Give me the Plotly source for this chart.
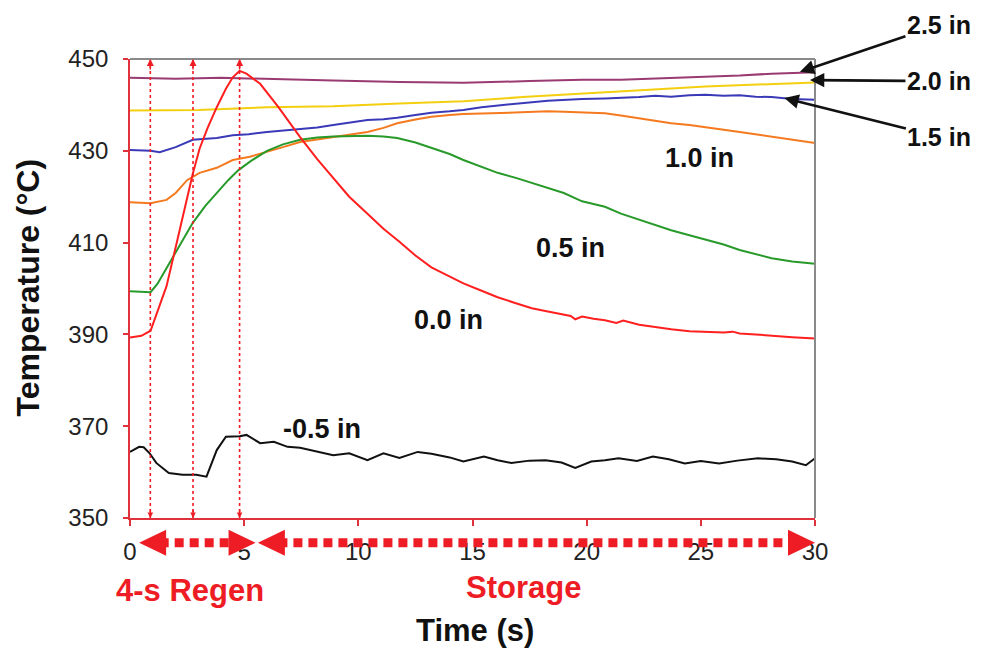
import plotly.graph_objects as go

# ---------------- data ----------------
t_neg05 = [0, 0.4, 0.6, 0.86, 1.15, 1.7, 2.3, 2.9, 3.35, 3.8, 4.2, 4.8, 5.1, 5.7, 6.3, 6.9, 7.45, 8.2, 8.9, 9.6,
           10.4, 11.1, 11.8, 12.6, 13.2, 14.0, 14.6, 15.5, 16.1, 16.7, 17.5, 18.2, 18.9, 19.5, 20.2, 20.8, 21.4,
           22.2, 22.9, 23.6, 24.3, 25.0, 25.8, 26.6, 27.5, 28.3, 29.0, 29.6, 30]
T_neg05 = [364.4, 365.5, 365.4, 364.1, 362.0, 359.8, 359.4, 359.4, 359.0, 364.8, 367.7, 367.8, 368.1, 366.3, 366.6,
           365.5, 365.3, 364.4, 363.7, 364.1, 362.6, 364.1, 363.1, 364.4, 364.0, 363.2, 362.3, 363.4, 362.6, 362.0,
           362.5, 362.6, 362.1, 360.9, 362.3, 362.6, 363.0, 362.4, 363.4, 362.8, 361.9, 362.4, 361.9, 362.5, 363.0,
           362.8, 362.3, 361.5, 363.0]

t_00 = [0, 0.5, 0.9, 1.2, 1.6, 2.0, 2.3, 2.75, 3.05, 3.4, 3.8, 4.2, 4.5, 4.8, 5.1, 5.7, 6.5, 7.45, 8.2, 8.9, 9.6,
        10.4, 11.1, 11.8, 12.5, 13.2, 14.0, 14.6, 15.4, 16.1, 16.9, 17.6, 18.3, 19.0, 19.3, 19.5, 19.8, 20.3, 20.8,
        21.3, 21.6, 22.3, 23.0, 23.7, 24.5, 25.2, 26.0, 26.4, 26.7, 27.4, 28.1, 29.0, 30]
T_00 = [389.3, 389.7, 390.8, 395.0, 400.5, 409.0, 415.5, 425.0, 430.5, 435.0, 439.5, 443.5, 446.0, 447.4, 446.8,
        444.6, 439.5, 433.0, 428.2, 424.0, 420.0, 416.3, 413.0, 410.2, 407.2, 404.6, 402.5, 401.1, 399.5, 398.1,
        396.8, 395.7, 395.0, 394.3, 394.0, 393.3, 393.9, 393.4, 393.1, 392.5, 393.0, 392.1, 391.6, 391.1, 390.7,
        390.5, 390.4, 390.6, 390.2, 390.0, 389.7, 389.4, 389.1]

t_05 = [0, 0.5, 0.9, 1.2, 1.6, 2.0, 2.4, 2.75, 3.3, 3.8, 4.3, 4.75, 5.3, 6.0, 6.7, 7.45, 8.2, 8.9, 9.6, 10.4, 11.1,
        11.7, 12.5, 13.2, 14.0, 14.6, 15.4, 16.1, 16.9, 17.6, 18.3, 19.0, 19.8, 20.8, 21.5, 22.3, 23.0, 23.7, 24.5,
        25.2, 26.0, 26.7, 27.4, 28.1, 29.0, 30]
T_05 = [399.4, 399.2, 399.2, 401.0, 404.5, 408.0, 411.5, 414.3, 418.0, 420.8, 423.6, 425.8, 427.8, 430.0, 431.4,
        432.4, 432.9, 433.1, 433.2, 433.3, 433.1, 432.8, 431.8, 430.6, 429.3, 428.0, 426.6, 425.2, 424.1, 423.0,
        421.9, 420.8, 419.0, 417.8, 416.3, 415.0, 413.9, 412.7, 411.6, 410.6, 409.6, 408.4, 407.5, 406.6, 405.9, 405.4]

t_10 = [0, 0.5, 0.9, 1.6, 2.0, 2.5, 3.05, 3.8, 4.5, 5.25, 6.0, 6.7, 7.45, 8.2, 8.9, 9.6, 10.4, 11.1, 11.7, 12.5,
        13.2, 14.0, 14.6, 15.4, 16.1, 16.9, 17.6, 18.3, 19.0, 19.8, 20.8, 21.5, 22.3, 23.0, 23.7, 24.5, 25.2, 26.0,
        26.7, 27.4, 28.1, 29.0, 30]
T_10 = [418.8, 418.6, 418.6, 419.3, 420.8, 423.6, 425.2, 426.3, 428.0, 428.7, 429.7, 430.8, 431.9, 432.5, 433.0,
        433.5, 434.1, 435.0, 436.0, 436.8, 437.4, 437.8, 438.0, 438.1, 438.2, 438.4, 438.5, 438.6, 438.5, 438.3,
        438.2, 437.7, 437.1, 436.5, 436.0, 435.6, 435.2, 434.6, 434.1, 433.6, 433.0, 432.4, 431.7]

t_15 = [0, 0.5, 0.9, 1.3, 2.0, 2.75, 3.3, 3.8, 4.5, 5.2, 6.0, 6.7, 7.45, 8.2, 8.9, 9.6, 10.4, 11.1, 11.7, 12.5,
        13.2, 14.0, 14.6, 15.4, 16.1, 16.9, 17.6, 18.3, 19.0, 19.8, 20.8, 21.5, 22.3, 23.0, 23.7, 24.5, 25.2, 26.0,
        26.7, 27.4, 28.1, 29.0, 30]
T_15 = [430.2, 430.1, 430.0, 429.7, 430.8, 432.4, 432.6, 432.8, 433.4, 433.6, 434.1, 434.4, 434.7, 435.1, 435.6,
        436.1, 436.7, 436.9, 437.2, 437.8, 438.3, 438.6, 438.9, 439.5, 439.9, 440.3, 440.6, 440.9, 441.1, 441.3,
        441.4, 441.5, 441.7, 442.0, 441.8, 442.1, 442.2, 442.0, 442.1, 441.8, 441.7, 441.3, 441.1]

t_20 = [0, 3, 6, 8.9, 11.8, 14.6, 17.2, 19.8, 21.8, 23.7, 25.2, 26.7, 28.3, 30]
T_20 = [438.8, 438.9, 439.5, 439.7, 440.3, 440.8, 441.7, 442.5, 443.1, 443.6, 444.0, 444.3, 444.6, 444.9]

t_25 = [0, 2, 4, 6, 8.9, 11.8, 14.6, 17.5, 19.8, 21.5, 23.7, 25.2, 26.7, 28.1, 29.0, 30]
T_25 = [445.9, 445.7, 445.9, 445.6, 445.3, 445.0, 444.8, 445.2, 445.5, 445.5, 445.9, 446.1, 446.4, 446.8, 447.0, 447.1]

series_names = ["-0.5 in", "0.0 in", "0.5 in", "1.0 in", "1.5 in", "2.0 in", "2.5 in"]
x_ticks = [0, 5, 10, 15, 20, 25, 30]
y_ticks = [350, 370, 390, 410, 430, 450]

# event times (vertical dotted markers) and phase spans
event_times = [0.89, 2.76, 4.8]
phase_labels = ["4-s Regen", "Storage"]
phase_spans = [(0.4, 5.5), (5.6, 30.0)]

# ---------------- style ----------------
RED = "#ee1c24"
AXRED = "#e0323c"
FONT = "Arial, Liberation Sans, sans-serif"
colors = ["#111111", "#ff1f1f", "#279a2a", "#f57a1f", "#3a3ab8", "#f3cf10", "#9a3a72"]
xs = [t_neg05, t_00, t_05, t_10, t_15, t_20, t_25]
ys = [T_neg05, T_00, T_05, T_10, T_15, T_20, T_25]

fig = go.Figure()
order = [6, 5, 4, 3, 2, 0, 1]
for i in order:
    fig.add_trace(go.Scatter(x=xs[i], y=ys[i], mode="lines", name=series_names[i],
                             line=dict(color=colors[i], width=2), showlegend=False))

shapes = []
annotations = []

# vertical dotted event lines with small arrowheads at both ends
for te in event_times:
    shapes.append(dict(type="line", xref="x", yref="y", x0=te, x1=te, y0=350, y1=450,
                       line=dict(color=RED, width=1.6, dash="dot"), layer="above"))
    annotations.append(dict(x=te, y=450, xref="x", yref="y", text="", showarrow=True,
                            ax=0, ay=12, arrowhead=2, arrowsize=1, arrowwidth=1.4, arrowcolor=RED))
    annotations.append(dict(x=te, y=350, xref="x", yref="y", text="", showarrow=True,
                            ax=0, ay=-10, arrowhead=2, arrowsize=0.8, arrowwidth=1.4, arrowcolor=RED))

# top and right frame (gray)
shapes.append(dict(type="line", xref="paper", yref="paper", x0=0, x1=1, y0=1, y1=1,
                   line=dict(color="#8a8a8a", width=2)))
shapes.append(dict(type="line", xref="paper", yref="paper", x0=1, x1=1, y0=0, y1=1,
                   line=dict(color="#8a8a8a", width=2)))

# phase arrows below the axis (dashed, double headed)
y_arrow = -0.054
for (a, b) in phase_spans:
    pa, pb = a / 30.0, b / 30.0
    shapes.append(dict(type="line", xref="paper", yref="paper", x0=pa + 0.03, x1=pb - 0.03,
                       y0=y_arrow, y1=y_arrow, line=dict(color=RED, width=9, dash="9px,6px")))
    shapes.append(dict(type="path", xref="paper", yref="paper", xsizemode="pixel", ysizemode="pixel",
                       xanchor=pa, yanchor=y_arrow, path="M 0,0 L 27,13 L 27,-13 Z",
                       fillcolor=RED, line=dict(width=0)))
    shapes.append(dict(type="path", xref="paper", yref="paper", xsizemode="pixel", ysizemode="pixel",
                       xanchor=pb, yanchor=y_arrow, path="M 0,0 L -27,13 L -27,-13 Z",
                       fillcolor=RED, line=dict(width=0)))

# phase labels
ctr = dict(xanchor="center", yanchor="middle", showarrow=False, xref="paper", yref="paper")
annotations.append(dict(x=0.0876, y=-0.157, text="<b>" + phase_labels[0] + "</b>",
                        font=dict(family=FONT, size=31, color=RED), **ctr))
annotations.append(dict(x=0.575, y=-0.152, text="<b>" + phase_labels[1] + "</b>",
                        font=dict(family=FONT, size=31, color=RED), **ctr))

# axis titles
annotations.append(dict(x=0.503, y=-0.245, text="<b>Time (s)</b>",
                        font=dict(family=FONT, size=31, color="#111111"), **ctr))
annotations.append(dict(x=-0.149, y=0.502, text="<b>Temperature (°C)</b>", textangle=-90,
                        font=dict(family=FONT, size=32, color="#111111"), **ctr))

# in-plot series labels
lab_font = dict(family=FONT, size=27, color="#111111")
inplot = [("-0.5 in", 8.4, 369.3), ("0.0 in", 13.96, 393.1), ("0.5 in", 19.3, 408.8), ("1.0 in", 24.95, 428.4)]
for txt, xx, yy in inplot:
    annotations.append(dict(x=xx, y=yy, xref="x", yref="y", text="<b>" + txt + "</b>", showarrow=False,
                            font=lab_font))

# right-side labels with arrows
right_font = dict(family=FONT, size=25, color="#111111")
right = [("2.5 in", 29.34, 447.2, 139, -47), ("2.0 in", 29.78, 445.4, 129, 1), ("1.5 in", 28.66, 441.5, 155, 39)]
for txt, xx, yy, axp, ayp in right:
    annotations.append(dict(x=xx, y=yy, xref="x", yref="y", text="<b>" + txt + "</b>", showarrow=True,
                            ax=axp, ay=ayp, arrowhead=2, arrowsize=1.1, arrowwidth=2.6, arrowcolor="#111111",
                            font=right_font, standoff=0))

fig.update_layout(
    width=978, height=641,
    margin=dict(l=122, r=171, t=51, b=131),
    paper_bgcolor="white", plot_bgcolor="white",
    shapes=shapes, annotations=annotations,
    showlegend=False,
    font=dict(family=FONT),
)
fig.update_xaxes(range=[0, 30], tickvals=x_ticks, ticktext=[str(v) for v in x_ticks],
                 showline=True, linecolor=AXRED, linewidth=1.6, ticks="outside", tickcolor=AXRED,
                 ticklen=6, tickwidth=1.6, showgrid=False, zeroline=False, ticklabelstandoff=5,
                 tickfont=dict(family=FONT, size=24, color="#222222"))
fig.update_yaxes(range=[350, 450], tickvals=y_ticks, ticktext=[str(v) for v in y_ticks],
                 showline=True, linecolor=AXRED, linewidth=1.6, ticks="outside", tickcolor=AXRED,
                 ticklen=5, tickwidth=1.6, showgrid=False, zeroline=False, ticklabelstandoff=10,
                 tickfont=dict(family=FONT, size=24, color="#222222"))

fig.write_html("out.html")
